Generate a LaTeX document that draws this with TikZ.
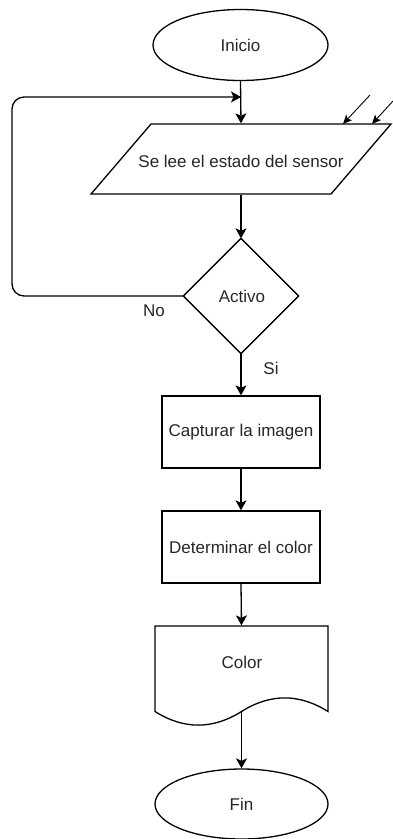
\documentclass[tikz,border=0pt]{standalone}
\usepackage{fontspec}
\setmainfont{Liberation Sans}
\usetikzlibrary{shapes.geometric,arrows.meta}
\begin{document}
\begin{tikzpicture}[x=1pt,y=-1pt,
  line width=1.3pt,
  every node/.style={font=\fontsize{17}{20}\selectfont, text=black!85},
  flow/.style={-{Stealth[length=10pt,width=11pt,inset=2.5pt]}},
  small/.style={line width=0.9pt,-{Stealth[length=9pt,width=8pt,inset=2pt]}},
  term/.style={ellipse, draw, inner sep=0pt, minimum width=175pt, minimum height=71pt},
  proc/.style={rectangle, draw, inner sep=0pt, minimum width=158pt, minimum height=72pt},
  frame/.style={rectangle, inner sep=0pt}
]
\useasboundingbox (0,0) rectangle (392,839);

% Inicio
\node[term] (ini) at (240.5,45) {Inicio};

% Parallelogram (input)
\node[frame, minimum width=180pt, minimum height=70pt] (lee) at (241,159) {};
\draw (151,124) -- (391,124) -- (331,194) -- (91,194) -- cycle;
\node (leetext) at (241,161) {Se lee el estado del sensor};

% Decision
\node[frame, minimum width=114pt, minimum height=114pt] (dec) at (241,296) {};
\draw (dec.north) -- (dec.east) -- (dec.south) -- (dec.west) -- cycle;
\node (dectext) at (242,296) {Activo};

% Processes
\node[proc] (cap) at (241,432) {Capturar la imagen};
\node[proc] (det) at (241,547) {Determinar el color};

% Document
\node[frame, minimum width=173pt, minimum height=85.5pt] (doc) at (241.5,668.75) {};
\draw (155,626) -- (328,626) -- (328,711.5)
  .. controls (299.17,693.37) and (270.33,693.37) .. (241.5,711.5)
  .. controls (212.67,729.63) and (183.83,729.63) .. (155,711.5) -- cycle;
\node (doctext) at (242,662) {Color};

% Fin
\node[term, minimum width=173pt, minimum height=70pt] (fin) at (241.5,804) {Fin};

% Connectors
\coordinate (merge) at (241,97);
\draw[flow] (ini.south) -- (lee.north);
\draw[flow] (lee.south) -- (dec.north);
\draw[flow, rounded corners=12pt] (dec.west) -- (12,296) -- (12,97) -- (merge);
\draw[flow] (dec.south) -- (cap.north);
\draw[flow] (cap.south) -- (det.north);
\draw[flow] (det.south) -- (doc.north);
\draw[flow] (doc.south) -- (fin.north);

% Labels
\node (no) at (154,311) {No};
\node (si) at (271,368) {Si};

% Small incoming arrows
\coordinate (s1) at (370,95);
\coordinate (e1) at (343,124);
\coordinate (s2) at (393,101);
\coordinate (e2) at (372,124);
\draw[small] (s1) -- (e1);
\draw[small] (s2) -- (e2);
\end{tikzpicture}
\end{document}
